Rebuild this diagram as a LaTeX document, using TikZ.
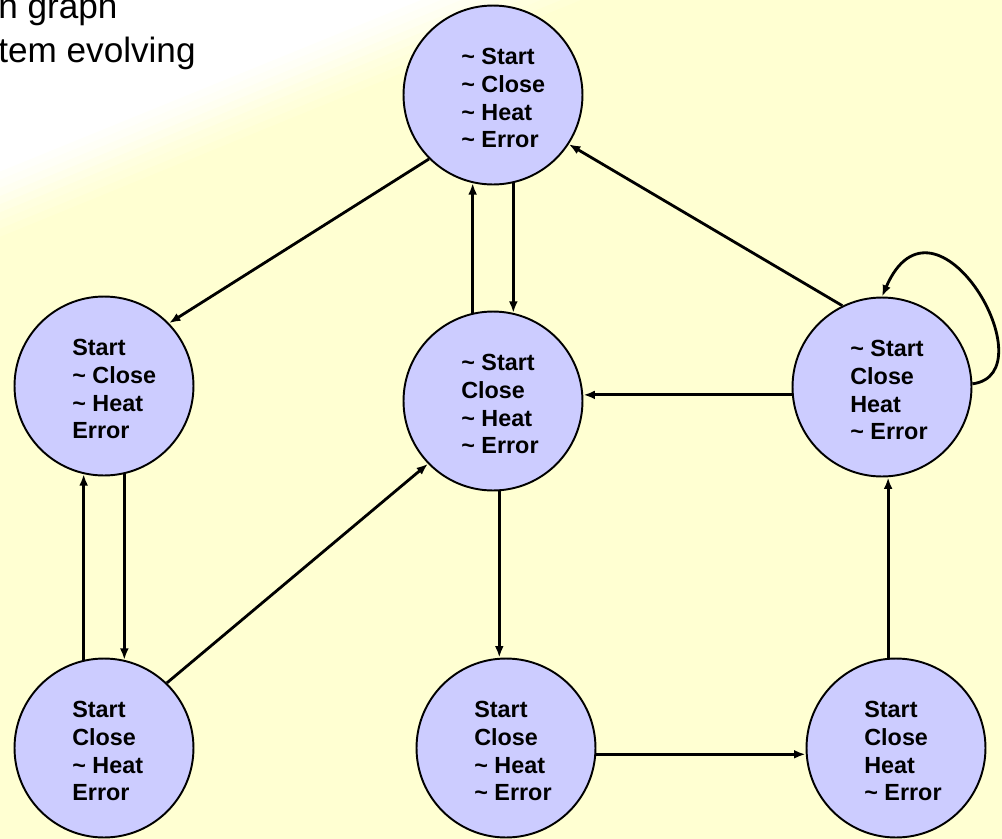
\documentclass[tikz,border=0pt]{standalone}
\usepackage{fontspec}
\setmainfont{Liberation Sans}
\usepackage{xcolor}
\usepackage{tikz}
\usetikzlibrary{calc}
\usetikzlibrary{arrows.meta}
\usetikzlibrary{positioning}
\definecolor{bgyellow}{RGB}{255,255,210}
\definecolor{statefill}{RGB}{204,204,255}
\tikzset{>={Latex[length=6.5pt,width=5pt]}}
\tikzstyle{state} = [circle, draw=black, line width=1.1pt, fill=statefill, minimum size=3.58cm, inner sep=0pt]
\tikzstyle{vars} = [anchor=west, align=left, inner sep=0pt, font=\fontsize{13.3}{15.9}\selectfont\bfseries]
\tikzstyle{edge} = [->, draw=black, line width=1.6pt]
\tikzstyle{ttl} = [anchor=base west, inner sep=0pt, font=\fontsize{20}{25}\selectfont]

\begin{document}
\begin{tikzpicture}[x=0.02cm, y=-0.02cm]
\useasboundingbox (0,0) rectangle (1002,839);
\fill [bgyellow] (0,0) rectangle (1002,839);
\foreach \s/\p in {100/10, 80/20, 60/30, 40/42, 20/55, 0/68, -20/80, -40/90, -60/100}
  \fill [white!\p!bgyellow] (0,0) -- ({481+\s},0) -- (0,{196+\s/2.45}) -- cycle;

\node [ttl] (ttl1) at (-2,18) {n graph};
\node [ttl] (ttl2) at (-2,62) {tem evolving};

\node [state] (T) at (493,95) {};
\node [state] (L) at (104,386) {};
\node [state] (M) at (493,401) {};
\node [state] (R) at (882,387) {};
\node [state] (BL) at (104,748) {};
\node [state] (BM) at (506,748) {};
\node [state] (BR) at (896,748) {};

\node [vars] (Tv) at ($(T)+(-32,3)$) {\textasciitilde{} Start\\\textasciitilde{} Close\\\textasciitilde{} Heat\\\textasciitilde{} Error};
\node [vars] (Lv) at ($(L)+(-32,3)$) {Start\\\textasciitilde{} Close\\\textasciitilde{} Heat\\Error};
\node [vars] (Mv) at ($(M)+(-32,3)$) {\textasciitilde{} Start\\Close\\\textasciitilde{} Heat\\\textasciitilde{} Error};
\node [vars] (Rv) at ($(R)+(-32,3)$) {\textasciitilde{} Start\\Close\\Heat\\\textasciitilde{} Error};
\node [vars] (BLv) at ($(BL)+(-32,3)$) {Start\\Close\\\textasciitilde{} Heat\\Error};
\node [vars] (BMv) at ($(BM)+(-32,3)$) {Start\\Close\\\textasciitilde{} Heat\\\textasciitilde{} Error};
\node [vars] (BRv) at ($(BR)+(-32,3)$) {Start\\Close\\Heat\\\textasciitilde{} Error};

\draw [edge] (T.225) -- (L.44);
\draw [edge] (M.103) -- (T.257);
\draw [edge] (T.283) -- (M.77);
\draw [edge] (R.116) -- (T.327);
\draw [edge] (R.2) .. controls +(78,-10) and +(53,-122) .. (R.90);
\draw [edge] (R.185) -- (R.185 -| M.east);
\draw [edge] (L.283) -- (BL.77);
\draw [edge] (BL.103) -- (L.257);
\draw [edge] (BL.46) -- (M.224);
\draw [edge] (M.274) -- (M.274 |- BM.north);
\draw [edge] (BM.356) -- (BM.356 -| BR.west);
\draw [edge] (BR.95) -- (BR.95 |- R.south);
\end{tikzpicture}
\end{document}
